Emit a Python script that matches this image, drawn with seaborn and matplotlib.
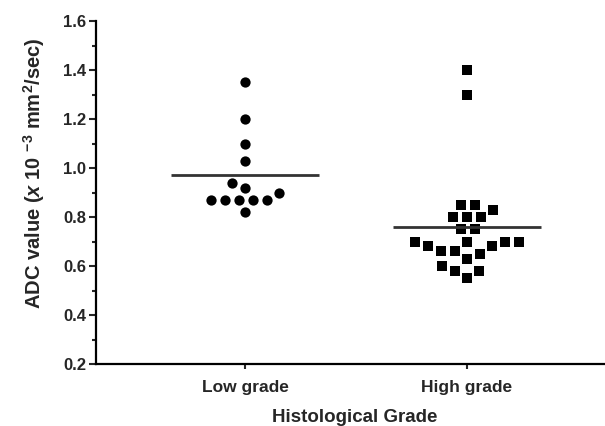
import numpy as np
import pandas as pd
import seaborn as sns
import matplotlib.pyplot as plt
from matplotlib.ticker import MultipleLocator, FormatStrFormatter

### ADC value by histological grade
grades = ["Low grade", "High grade"]
low_grade = [1.35, 1.20, 1.10, 1.03, 0.94, 0.92, 0.90,
             0.87, 0.87, 0.87, 0.87, 0.87, 0.82]
high_grade = [1.40, 1.30, 0.85, 0.85, 0.83, 0.80, 0.80, 0.80,
              0.75, 0.75, 0.70, 0.70, 0.70, 0.70, 0.68, 0.68,
              0.66, 0.66, 0.65, 0.63, 0.60, 0.58, 0.58, 0.55]

df = pd.DataFrame({
    "grade": ["Low grade"] * len(low_grade) + ["High grade"] * len(high_grade),
    "adc": low_grade + high_grade,
})

sns.set_style("ticks")
plt.rcParams['font.family'] = ['Liberation Sans', 'DejaVu Sans']
plt.rcParams['font.weight'] = 'bold'
plt.rcParams['axes.labelweight'] = 'bold'
plt.rcParams['mathtext.default'] = 'bf'
plt.rcParams['mathtext.fontset'] = 'custom'
plt.rcParams['mathtext.rm'] = 'Liberation Sans:bold'
plt.rcParams['mathtext.it'] = 'Liberation Sans:italic:bold'
plt.rcParams['mathtext.bf'] = 'Liberation Sans:bold'

fig = plt.figure(figsize=(6.05, 4.26), dpi=100)
ax = fig.add_axes([0.1587, 0.1455, 0.8413, 0.8052])

# swarm laid out with a wider spacing, markers shrunk afterwards
sns.swarmplot(data=df[df.grade == "Low grade"], x="grade", y="adc", order=grades,
              marker="o", color="black", size=9.6, linewidth=0, ax=ax)
sns.swarmplot(data=df[df.grade == "High grade"], x="grade", y="adc", order=grades,
              marker="s", color="black", size=9.6, linewidth=0, ax=ax)

ax.set_xlim(-0.671, 1.622)
ax.set_ylim(0.2, 1.6)
fig.canvas.draw()
marker_sizes = [7.4, 6.9]
for c, ms in zip([c for c in ax.collections if "draw" in c.__dict__], marker_sizes):
    del c.draw
    c.set_sizes([ms ** 2])

# mean lines
means = df.groupby("grade")["adc"].mean()
for i, g in enumerate(grades):
    ax.hlines(means[g], i - 0.333, i + 0.333, color="#333333", lw=2.0, zorder=3)

ax.yaxis.set_major_locator(MultipleLocator(0.2))
ax.yaxis.set_minor_locator(MultipleLocator(0.1))
ax.yaxis.set_major_formatter(FormatStrFormatter("%.1f"))

for s in ["top", "right"]:
    ax.spines[s].set_visible(False)
for s in ["left", "bottom"]:
    ax.spines[s].set_linewidth(1.6)
    ax.spines[s].set_color("black")

ax.tick_params(axis="y", which="major", length=5, width=1.5, labelsize=12, pad=2)
ax.tick_params(axis="y", which="minor", length=3, width=1.5)
ax.tick_params(axis="x", length=3.5, width=1.5, labelsize=12.5, pad=8)

ax.set_xlabel("Histological Grade", fontsize=13.5, fontweight="bold")
ax.set_ylabel(r"ADC value ($\mathit{x}$ 10 $^{-3}$ mm$^{2}$/sec)",
              fontsize=14.5, fontweight="bold")
ax.xaxis.set_label_coords(0.509, -0.132)
ax.yaxis.set_label_coords(-0.097, 0.557)

fig.savefig("out.png", dpi=100)
